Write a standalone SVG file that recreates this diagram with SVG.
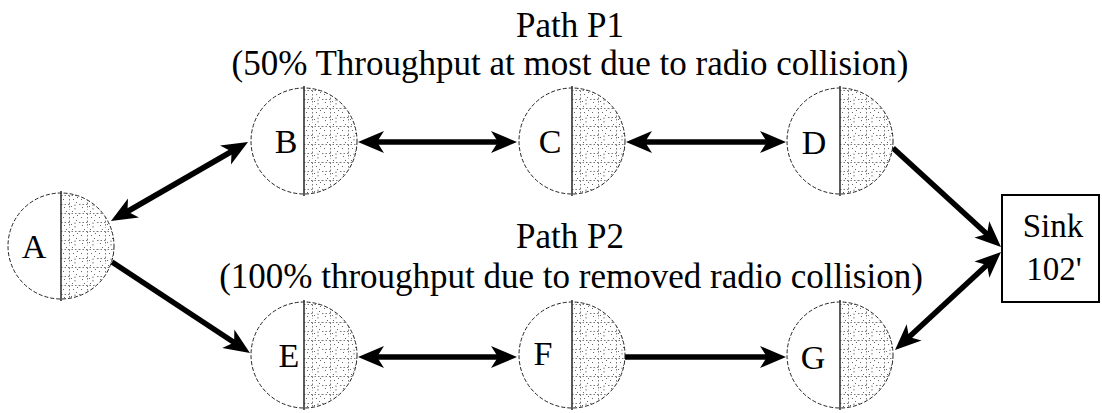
<svg xmlns="http://www.w3.org/2000/svg" xmlns:xlink="http://www.w3.org/1999/xlink" width="1102" height="413" viewBox="0 0 1102 413">
<style>
text{font-family:"Liberation Serif","Times New Roman",serif;fill:#000}
.title{font-size:35px;text-anchor:middle}
.lbl{font-size:34px;text-anchor:middle}
.sink{font-size:33px;text-anchor:middle}
.conn{fill:none;stroke:#000;stroke-width:5.5}
.outline{fill:none;stroke:#222;stroke-width:1;stroke-dasharray:4,2}
.divider{stroke:#333;stroke-width:1.6}
</style>
<defs>
<pattern id="stip" width="18" height="18" patternUnits="userSpaceOnUse">
<rect width="18" height="18" fill="#fff"/>
<path d="M0,3.5H18M8.5,3.5V18M0,12.5H8.5M14,12.5V18" stroke="#555" stroke-width="0.8" stroke-dasharray="1.5,2"/>
<g fill="#666">
<rect x="2" y="7" width="1" height="1"/><rect x="5" y="1" width="1" height="1"/><rect x="12" y="7" width="1" height="1"/>
<rect x="15" y="10" width="1" height="1"/><rect x="3" y="15" width="1" height="1"/>
<rect x="11" y="1" width="1" height="1"/><rect x="16" y="5" width="1" height="1"/>
<rect x="10" y="14" width="1" height="1"/>
</g>
</pattern>
<g id="nodeShape">
<path d="M0,-53A53,53 0 0 1 0,53Z" fill="url(#stip)"/>
<circle r="53" class="outline"/>
<line x1="0" y1="-55" x2="0" y2="55" class="divider"/>
</g>
<marker id="ah" markerUnits="userSpaceOnUse" markerWidth="28" markerHeight="24" viewBox="0 0 28 24" refX="12" refY="12" orient="auto-start-reverse">
<path d="M0,1L26,12L0,23L7,12Z" fill="#000"/>
</marker>
</defs>

<g id="titles">
<text class="title" x="570" y="37">Path P1</text>
<text class="title" x="570" y="75">(50% Throughput at most due to radio collision)</text>
<text class="title" x="570" y="248">Path P2</text>
<text class="title" x="571" y="288">(100% throughput due to removed radio collision)</text>
</g>

<g id="connectors">
<path class="conn" d="M123.1,214L235.9,149" marker-start="url(#ah)" marker-end="url(#ah)"/>
<path class="conn" d="M112,262L238.3,345.3" marker-end="url(#ah)"/>
<path class="conn" d="M372,142L503,142" marker-start="url(#ah)" marker-end="url(#ah)"/>
<path class="conn" d="M640,142L772,142" marker-start="url(#ah)" marker-end="url(#ah)"/>
<path class="conn" d="M372,357L503,357" marker-start="url(#ah)" marker-end="url(#ah)"/>
<path class="conn" d="M625,357L772,357" marker-end="url(#ah)"/>
<path class="conn" d="M893,148L990.7,237.5" marker-end="url(#ah)"/>
<path class="conn" d="M990.7,261.5L905.3,340.5" marker-start="url(#ah)" marker-end="url(#ah)"/>
</g>

<g id="node-A" transform="translate(61,246)"><use xlink:href="#nodeShape"/><text class="lbl" x="-27" y="12">A</text></g>
<g id="node-B" transform="translate(304,141)"><use xlink:href="#nodeShape"/><text class="lbl" x="-18" y="12">B</text></g>
<g id="node-C" transform="translate(572,141)"><use xlink:href="#nodeShape"/><text class="lbl" x="-22" y="12">C</text></g>
<g id="node-D" transform="translate(840,141)"><use xlink:href="#nodeShape"/><text class="lbl" x="-26" y="13">D</text></g>
<g id="node-E" transform="translate(304,355)"><use xlink:href="#nodeShape"/><text class="lbl" x="-15" y="12">E</text></g>
<g id="node-F" transform="translate(572,355)"><use xlink:href="#nodeShape"/><text class="lbl" x="-29" y="10">F</text></g>
<g id="node-G" transform="translate(840,355)"><use xlink:href="#nodeShape"/><text class="lbl" x="-27" y="14">G</text></g>

<g id="node-Sink">
<rect x="1002" y="195" width="97" height="107" fill="#fff" stroke="#000" stroke-width="2"/>
<text class="sink" x="1053" y="237">Sink</text>
<text class="sink" x="1054" y="280">102'</text>
</g>
</svg>
